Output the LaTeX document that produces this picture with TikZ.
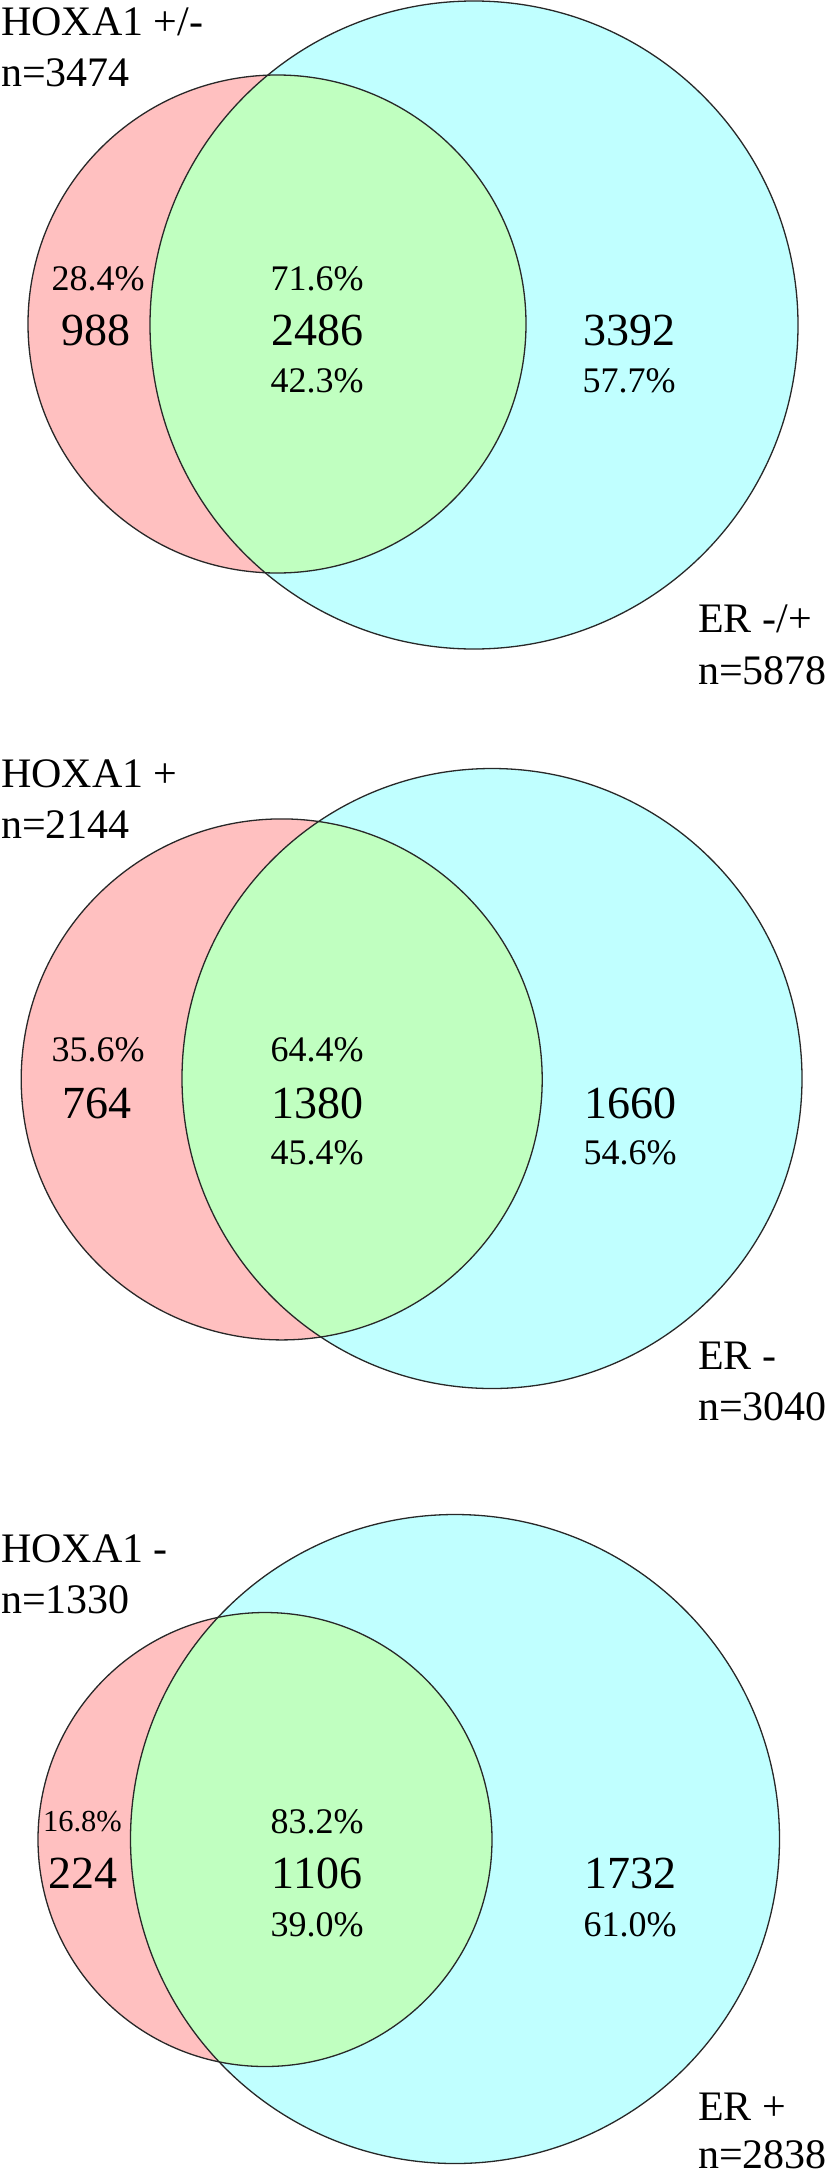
\documentclass[tikz,border=0pt]{standalone}
\usepackage{fontspec}
\setmainfont{Liberation Serif}
\definecolor{hoxa}{RGB}{255,192,192}
\definecolor{both}{RGB}{192,255,192}
\definecolor{er}{RGB}{192,255,255}
\definecolor{rimgray}{RGB}{40,40,40}

\begin{document}
\begin{tikzpicture}[x=1pt, y=-1pt,
    rim/.style={draw=rimgray, line width=1.3pt},
    lab/.style={anchor=base west, inner sep=0pt, font=\fontsize{42}{42}\selectfont},
    num/.style={anchor=base, inner sep=0pt, font=\fontsize{46}{46}\selectfont},
    pct/.style={anchor=base, inner sep=0pt, font=\fontsize{36}{36}\selectfont}]
    \useasboundingbox (0,0) rectangle (827,2176);

    % HOXA1 +/- and ER -/+
    \fill[er] (474,325) circle (324);
    \fill[hoxa] (277,324) circle (249);
    \begin{scope}
        \clip (277,324) circle (249);
        \fill[both] (474,325) circle (324);
    \end{scope}
    \draw[rim] (474,325) circle (324);
    \draw[rim] (277,324) circle (249);
    \node[lab] (hoxaAll) at (1,35) {HOXA1 +/-};
    \node[lab] (hoxaAllN) at (1,86) {n=3474};
    \node[lab] (erAll) at (698,632) {ER -/+};
    \node[lab] (erAllN) at (698,684) {n=5878};
    \node[pct] (onlyAllP) at (98,290) {28.4\%};
    \node[num] (onlyAll) at (96,345.5) {988};
    \node[pct] (bothAllP) at (317,290) {71.6\%};
    \node[num] (bothAll) at (317,345.5) {2486};
    \node[pct] (bothAllQ) at (317,392) {42.3\%};
    \node[num] (restAll) at (629,345.5) {3392};
    \node[pct] (restAllP) at (629,392) {57.7\%};

    % HOXA1 + and ER -
    \fill[er] (492,1078.5) circle (310);
    \fill[hoxa] (281.7,1079.4) circle (260.5);
    \begin{scope}
        \clip (281.7,1079.4) circle (260.5);
        \fill[both] (492,1078.5) circle (310);
    \end{scope}
    \draw[rim] (492,1078.5) circle (310);
    \draw[rim] (281.7,1079.4) circle (260.5);
    \node[lab] (hoxaPos) at (1,787) {HOXA1 +};
    \node[lab] (hoxaPosN) at (1,838) {n=2144};
    \node[lab] (erNeg) at (698,1369.5) {ER -};
    \node[lab] (erNegN) at (698,1420.5) {n=3040};
    \node[pct] (onlyPosP) at (98,1061.7) {35.6\%};
    \node[num] (onlyPos) at (97,1118) {764};
    \node[pct] (bothPosP) at (317,1061.7) {64.4\%};
    \node[num] (bothPos) at (317,1118) {1380};
    \node[pct] (bothPosQ) at (317,1164.6) {45.4\%};
    \node[num] (restNeg) at (630,1118) {1660};
    \node[pct] (restNegP) at (630,1164.6) {54.6\%};

    % HOXA1 - and ER +
    \fill[er] (455,1839) circle (324.5);
    \fill[hoxa] (265,1839.5) circle (227);
    \begin{scope}
        \clip (265,1839.5) circle (227);
        \fill[both] (455,1839) circle (324.5);
    \end{scope}
    \draw[rim] (455,1839) circle (324.5);
    \draw[rim] (265,1839.5) circle (227);
    \node[lab] (hoxaNeg) at (1,1562.8) {HOXA1 -};
    \node[lab] (hoxaNegN) at (1,1613) {n=1330};
    \node[lab] (erPos) at (698,2120) {ER +};
    \node[lab] (erPosN) at (698,2168) {n=2838};
    \node[pct, font=\fontsize{30.5}{30.5}\selectfont] (onlyNegP) at (82.5,1831) {16.8\%};
    \node[num] (onlyNeg) at (82.5,1888) {224};
    \node[pct] (bothNegP) at (317,1833) {83.2\%};
    \node[num] (bothNeg) at (317,1888.5) {1106};
    \node[pct] (bothNegQ) at (317,1936) {39.0\%};
    \node[num] (restPos) at (630,1888.5) {1732};
    \node[pct] (restPosP) at (630,1936) {61.0\%};
\end{tikzpicture}
\end{document}
